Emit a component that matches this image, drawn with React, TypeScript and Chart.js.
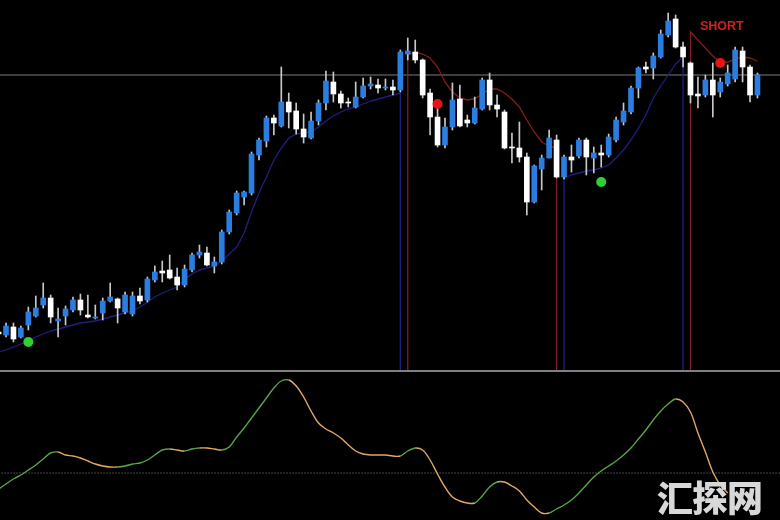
import React, { useEffect, useRef } from "react";
import { Chart, registerables } from "chart.js";

Chart.register(...registerables);

// ---- price candles (chart points, higher = up) ----
const openP = [38,35,43,33,45,54,65,72,49,54,60,70,55,52,57,69,71,58,56,74,70,90,99,100,93,85,100,115,117,104,108,138,157,173,177,215,229,252,244,268,259,241,232,249,267,288,276,268,263,273,284,285,282,283,280,316,318,310,277,253,225,243,271,250,247,261,290,265,258,223,222,213,168,201,212,230,193,213,214,230,212,217,215,230,248,258,282,303,302,313,335,351,323,307,276,275,290,278,286,291,319,303,275];
const highP = [41,47,47,44,63,74,87,75,62,64,73,76,75,65,72,87,72,78,78,82,93,104,109,115,102,105,117,125,123,113,140,160,179,179,218,232,254,255,303,277,267,256,258,270,299,298,279,272,288,292,293,291,291,290,320,332,330,311,281,265,252,287,285,255,273,292,297,275,260,237,248,217,205,215,240,235,215,225,232,232,223,225,236,253,267,284,303,308,317,340,357,355,328,308,293,295,307,292,305,323,323,305,297];
const lowP = [33,33,28,32,40,53,62,47,33,45,58,55,52,51,50,68,47,56,54,66,68,88,88,91,80,83,98,112,104,97,106,136,155,165,175,210,223,235,243,242,236,227,231,245,260,268,262,263,262,272,281,277,280,275,278,310,307,272,235,223,222,240,243,243,246,260,260,253,221,207,208,155,167,180,212,192,191,198,212,195,197,203,213,228,245,256,272,297,291,312,333,322,303,267,262,273,253,273,284,288,288,268,272];
const closeP = [36,44,31,42,58,62,72,53,51,61,70,60,53,53,69,73,62,75,74,69,91,98,97,92,85,101,115,118,105,108,138,158,177,178,216,230,252,247,268,258,241,233,249,267,289,276,267,267,273,284,286,282,283,280,318,319,310,275,253,225,243,270,244,247,262,290,265,261,222,222,213,168,204,212,232,193,213,210,230,213,217,215,233,250,259,282,302,301,314,336,349,323,313,275,274,290,275,288,297,320,303,275,295];

// ---- trend bands (null where the band is not active) ----
const lowerBand = [18,20,23,26,29,33,36,39,41,43,45,47,48,49,51,53,55,57,59,63,68,73,77,80,83,91,96,100,102,104,109,116,123,137,158,177,193,210,222,232,236,237,238,243,249,254,258,261,263,266,269,271,273,275,277,
  null,null,null,null,null,null,null,null,null,null,null,null,null,null,null,null,null,null,null,null,null,
  192,195,197,199,200,202,205,212,220,230,242,255,272,284,295,306,313,
  null,null,null,null,null,null,null,null,null,null];
const upperBand = [null,null,null,null,null,null,null,null,null,null,null,null,null,null,null,null,null,null,null,null,null,null,null,null,null,null,null,null,null,null,null,null,null,null,null,null,null,null,null,null,null,null,null,null,null,null,null,null,null,null,null,null,null,null,null,
  315,318,316,312,303,288,278,272,270,271,276,281,281,277,271,263,250,238,228,224,222,
  null,null,null,null,null,null,null,null,null,null,null,null,null,null,null,null,null,
  338,330,322,314,308,308,311,313,312,309];

// ---- signals ----
const buyBars = [4, 81];
const buyValues = [28, 188];
const sellBars = [59, 97];
const sellValues = [266, 307];

// ---- current price level ----
const priceLevel = 295;

// ---- oscillator (lower panel) ----
const oscillator = [-16,-11,-6,-2,3,8,14,20,21,18,17,15,12,9,7,6,6,7,9,10,13,18,23,24,23,22,24,25,25,24,23,26,36,45,55,65,75,85,92,93,87,76,62,50,44,40,35,28,22,19,18,18,18,17,17,22,25,23,13,-1,-14,-24,-28,-30,-30,-23,-14,-9,-9,-13,-18,-27,-34,-40,-40,-36,-32,-27,-20,-12,-4,2,7,12,18,25,34,43,53,62,69,74,71,61,40,21,1,-12,-20];
const oscZero = 0;

const X_MIN = 0.19;
const X_MAX = 105.03;

const BLUE = "#2b7de0";
const WHITE = "#ffffff";
const WICK = "#c8c8c8";

function bandPoints(vals: (number | null)[]) {
  const pts: { x: number; y: number | null }[] = [];
  for (let i = 0; i < vals.length; i++) {
    const v = vals[i];
    if (v == null) {
      pts.push({ x: i, y: null });
      continue;
    }
    const prevNull = i > 0 && vals[i - 1] == null;
    const nextNull = i < vals.length - 1 && vals[i + 1] == null;
    if (prevNull) pts.push({ x: i, y: 0 });
    pts.push({ x: i, y: v });
    if (nextNull) pts.push({ x: i, y: 0 });
  }
  return pts;
}

function baseOptions(ymin: number, ymax: number): any {
  return {
    responsive: false,
    animation: false,
    events: [],
    layout: { padding: 0, autoPadding: false },
    plugins: { legend: { display: false }, tooltip: { enabled: false } },
    scales: {
      x: { type: "linear", min: X_MIN, max: X_MAX, display: false, offset: false },
      y: { type: "linear", min: ymin, max: ymax, display: false },
    },
  };
}

export default function App() {
  const mainRef = useRef<HTMLCanvasElement>(null);
  const oscRef = useRef<HTMLCanvasElement>(null);

  useEffect(() => {
    document.body.style.background = "#000";
    const bodyColors = openP.map((o, i) => (closeP[i] >= o ? BLUE : WHITE));

    const main = new Chart(mainRef.current!, {
      type: "bar",
      data: {
        datasets: [
          {
            type: "line",
            label: "buy",
            data: buyBars.map((b, i) => ({ x: b, y: buyValues[i] })),
            showLine: false,
            pointRadius: 5,
            pointBackgroundColor: "#2ed12e",
            pointBorderColor: "#2ed12e",
            pointBorderWidth: 0,
            order: 0,
          } as any,
          {
            type: "line",
            label: "sell",
            data: sellBars.map((b, i) => ({ x: b, y: sellValues[i] })),
            showLine: false,
            pointRadius: 5,
            pointBackgroundColor: "#e51515",
            pointBorderColor: "#e51515",
            pointBorderWidth: 0,
            order: 0,
          } as any,
          {
            type: "bar",
            label: "body",
            data: openP.map((o, i) => ({ x: i, y: [o, closeP[i]] })),
            backgroundColor: bodyColors,
            borderWidth: 0,
            barThickness: 5,
            minBarLength: 1,
            grouped: false,
            order: 1,
          } as any,
          {
            type: "bar",
            label: "wick",
            data: lowP.map((l, i) => ({ x: i, y: [l, highP[i]] })),
            backgroundColor: WICK,
            borderWidth: 0,
            barThickness: 1,
            grouped: false,
            order: 2,
          } as any,
          {
            type: "line",
            label: "lower",
            data: bandPoints(lowerBand),
            borderColor: "#1f1f80",
            borderWidth: 1.3,
            pointRadius: 0,
            spanGaps: false,
            tension: 0,
            order: 3,
          } as any,
          {
            type: "line",
            label: "upper",
            data: bandPoints(upperBand),
            borderColor: "#841d1d",
            borderWidth: 1.3,
            pointRadius: 0,
            spanGaps: false,
            tension: 0,
            order: 3,
          } as any,
          {
            type: "line",
            label: "price",
            data: [
              { x: X_MIN - 1, y: priceLevel },
              { x: X_MAX + 1, y: priceLevel },
            ],
            borderColor: "#7c7c7c",
            borderWidth: 1,
            pointRadius: 0,
            order: 4,
          } as any,
        ],
      },
      options: baseOptions(0, 370),
    });

    const osc = new Chart(oscRef.current!, {
      type: "line",
      data: {
        datasets: [
          {
            label: "osc",
            data: oscillator.map((v, i) => ({ x: i, y: v })),
            borderWidth: 1.4,
            pointRadius: 0,
            tension: 0.35,
            borderColor: "#56a646",
            segment: {
              borderColor: (ctx: any) => (ctx.p1.parsed.y > ctx.p0.parsed.y ? "#56a646" : "#e2a766"),
            },
            order: 0,
          } as any,
          {
            label: "zero",
            data: [
              { x: X_MIN - 1, y: oscZero },
              { x: X_MAX + 1, y: oscZero },
            ],
            borderColor: "#8a8a8a",
            borderWidth: 1,
            borderDash: [1, 2],
            pointRadius: 0,
            order: 1,
          } as any,
        ],
      },
      options: baseOptions(-47, 101),
    });

    return () => {
      main.destroy();
      osc.destroy();
    };
  }, []);

  return (
    <div
      style={{
        position: "fixed",
        left: 0,
        top: 0,
        width: 780,
        height: 520,
        background: "#000",
        overflow: "hidden",
      }}
    >
      <canvas ref={mainRef} width={780} height={370} style={{ position: "absolute", left: 0, top: 0 }} />
      <div style={{ position: "absolute", left: 0, top: 370, width: 780, height: 2, background: "#808080" }} />
      <canvas ref={oscRef} width={780} height={148} style={{ position: "absolute", left: 0, top: 372 }} />
      <div
        style={{
          position: "absolute",
          left: 700,
          top: 20,
          fontFamily: "'Liberation Sans', Arial, sans-serif",
          fontWeight: 700,
          fontSize: 12.5,
          lineHeight: "12.5px",
          color: "#d21f1f",
          whiteSpace: "nowrap",
        }}
      >
        SHORT
      </div>
      <div
        style={{
          position: "absolute",
          left: 657,
          top: 478,
          fontFamily: "'Noto Sans CJK SC', sans-serif",
          fontWeight: 900,
          fontSize: 36,
          lineHeight: "36px",
          color: "#d8d8d8",
          whiteSpace: "nowrap",
          letterSpacing: -1,
        }}
      >
        汇探网
      </div>
    </div>
  );
}
